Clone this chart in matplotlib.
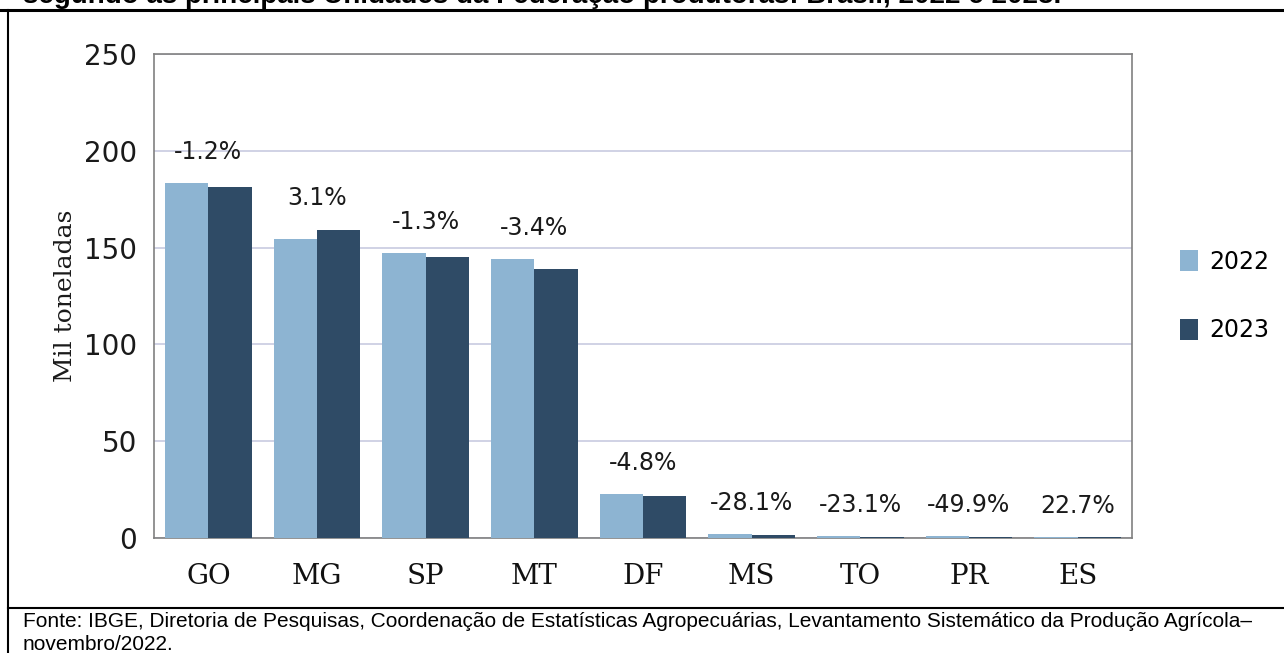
import matplotlib.pyplot as plt
import matplotlib as mpl
import numpy as np
from matplotlib.lines import Line2D

mpl.rcParams['axes.unicode_minus'] = False  # 负号用普通的 '-'

# 数据 (mil toneladas)
estados = ['GO', 'MG', 'SP', 'MT', 'DF', 'MS', 'TO', 'PR', 'ES']
prod_2022 = [183.4, 154.5, 147.2, 144.1, 22.7, 1.9, 0.9, 0.8, 0.5]
prod_2023 = [181.2, 159.3, 145.3, 139.2, 21.6, 1.4, 0.7, 0.4, 0.6]
variacao = ['-1.2%', '3.1%', '-1.3%', '-3.4%', '-4.8%', '-28.1%', '-23.1%', '-49.9%', '22.7%']
anos = ['2022', '2023']
yticks = [0, 50, 100, 150, 200, 250]

titulo = 'segundo as principais Unidades da Federação produtoras: Brasil, 2022 e 2023.'
fonte_1 = ('Fonte: IBGE, Diretoria de Pesquisas, Coordenação de Estatísticas Agropecuárias, '
           'Levantamento Sistemático da Produção Agrícola–')
fonte_2 = 'novembro/2022.'

W, H = 1284, 653
COR_CLARA = '#8db4d2'
COR_ESCURA = '#2f4b66'


def fx(px):
    # 像素 -> figure 坐标
    return px / W


def fy(py):
    return 1 - py / H


def draw():
    fig = plt.figure(figsize=(W / 100, H / 100), dpi=100)
    ax = fig.add_axes([fx(154), fy(538), fx(1132) - fx(154), fy(54) - fy(538)])

    x = np.arange(len(estados))
    w = 0.4
    b1 = ax.bar(x - w / 2, prod_2022, width=w, color=COR_CLARA, label=anos[0], zorder=3)
    b2 = ax.bar(x + w / 2, prod_2023, width=w, color=COR_ESCURA, label=anos[1], zorder=3)

    # 百分比标签
    for i, txt in enumerate(variacao):
        top = max(prod_2022[i], prod_2023[i])
        ax.annotate(txt, (x[i], top), xytext=(0, 22.5), textcoords='offset points',
                    ha='center', va='center', fontsize=17, family='DejaVu Sans',
                    color='#1a1a1a')

    ax.set_xlim(-0.5, len(estados) - 0.5)
    ax.set_ylim(0, 250)
    ax.set_yticks(yticks)
    ax.set_xticks(x)
    ax.set_xticklabels(estados, family='DejaVu Serif', fontsize=20)
    for lb in ax.get_yticklabels():
        lb.set_family('DejaVu Sans')
        lb.set_fontsize(20)
    ax.tick_params(axis='y', length=0, pad=12, colors='#1a1a1a')
    ax.tick_params(axis='x', length=0, pad=18, colors='#111111')

    ax.set_ylabel('Mil toneladas', family='DejaVu Serif', fontsize=18, labelpad=5,
                  color='#1a1a1a')

    ax.grid(axis='y', color='#c8cbe0', linewidth=1.2, zorder=0)
    for s in ax.spines.values():
        s.set_color('#808080')
        s.set_linewidth(1.2)

    # 图例
    fig.legend(handles=[b1, b2], labels=anos, loc='center left',
               bbox_to_anchor=(fx(1180), fy(296)), frameon=False,
               prop={'family': 'DejaVu Sans', 'size': 17},
               handlelength=0.76, handleheight=1.0, handletextpad=0.47,
               labelspacing=1.9, borderpad=0, borderaxespad=0)

    # 外框线
    fig.add_artist(Line2D([0, 1], [fy(9.5), fy(9.5)], transform=fig.transFigure,
                          color='black', linewidth=2.2))
    fig.add_artist(Line2D([fx(7.5), fx(7.5)], [fy(9.5), 0], transform=fig.transFigure,
                          color='black', linewidth=1.5))
    fig.add_artist(Line2D([fx(7.5), 1], [fy(607.5), fy(607.5)], transform=fig.transFigure,
                          color='black', linewidth=1.5))

    # 标题 (原图上半部分被裁掉) 和 来源
    fig.text(fx(23), fy(3), titulo, fontsize=20, weight='bold', family='Liberation Sans',
             va='baseline', ha='left')
    fig.text(fx(23), fy(627), fonte_1, fontsize=15, family='Liberation Sans',
             va='baseline', ha='left')
    fig.text(fx(23), fy(650), fonte_2, fontsize=15, family='Liberation Sans',
             va='baseline', ha='left')

    fig.savefig('out.png', dpi=100)


if __name__ == '__main__':
    draw()
